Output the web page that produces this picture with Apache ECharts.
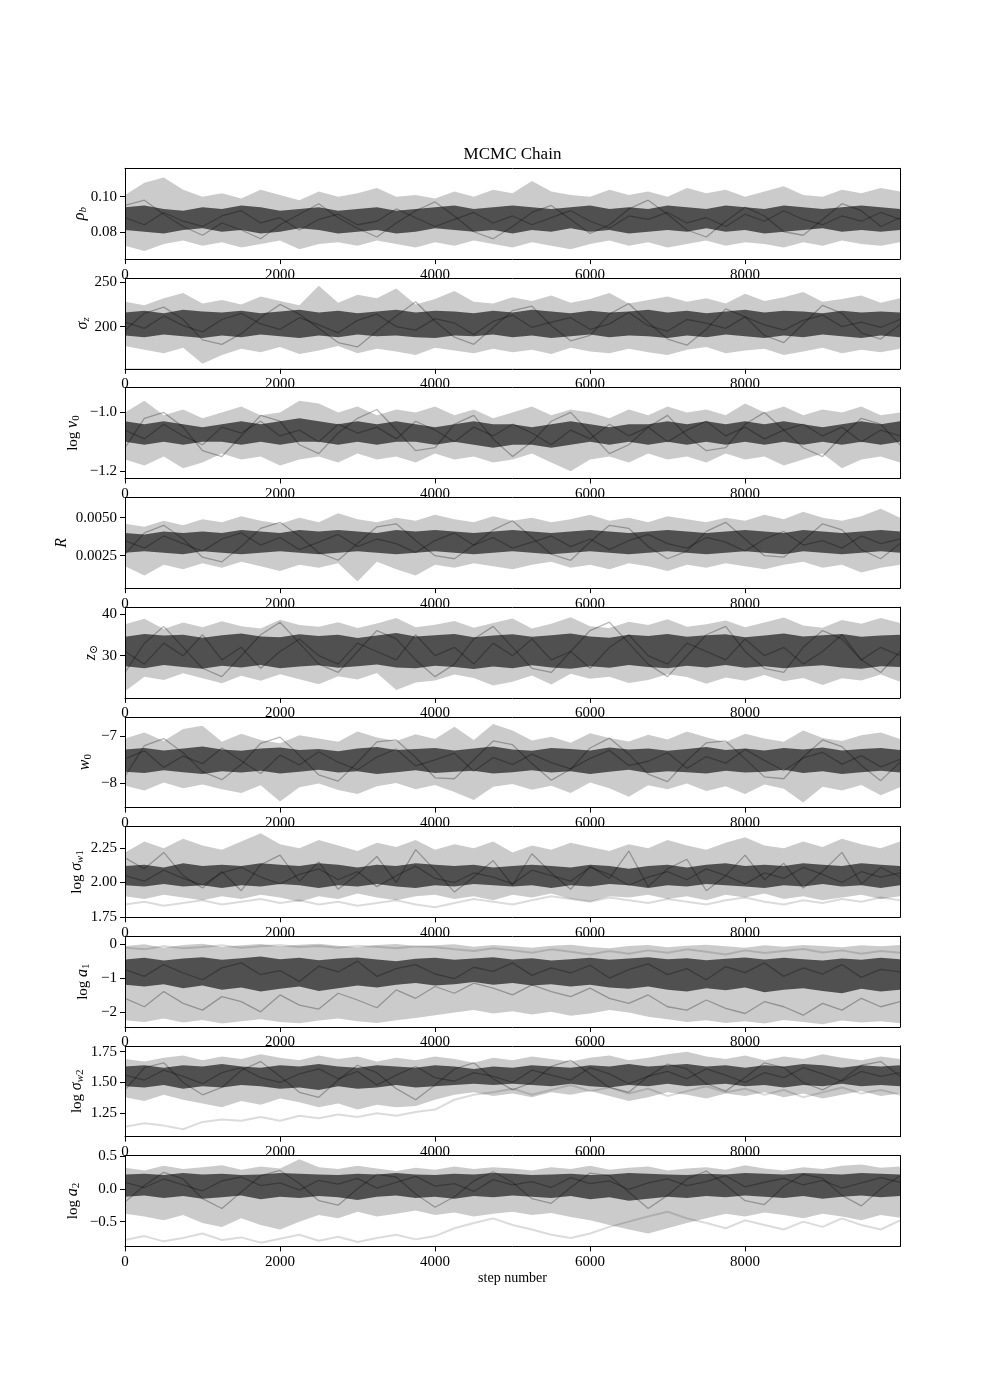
<!DOCTYPE html>
<html><head><meta charset="utf-8">
<script src="https://cdn.jsdelivr.net/npm/echarts@6/dist/echarts.min.js"></script>
<style>html,body{margin:0;padding:0;background:#fff}#c{width:1000px;height:1400px}</style>
</head><body><div id="c"></div>
<script>
// ---------- data ----------
const steps = [0,250,500,750,1000,1250,1500,1750,2000,2250,2500,2750,3000,3250,3500,3750,4000,4250,4500,4750,5000,5250,5500,5750,6000,6250,6500,6750,7000,7250,7500,7750,8000,8250,8500,8750,9000,9250,9500,9750,9999];
const xTicks = [0,2000,4000,6000,8000];

// panel 1: rho_b
const p1Hi = [0.101,0.108,0.111,0.104,0.100,0.102,0.099,0.104,0.101,0.098,0.103,0.100,0.102,0.105,0.100,0.101,0.099,0.103,0.100,0.104,0.102,0.109,0.103,0.101,0.100,0.104,0.101,0.103,0.100,0.105,0.102,0.104,0.100,0.103,0.106,0.101,0.100,0.104,0.102,0.105,0.103];
const p1CoreHi = [0.094,0.095,0.093,0.092,0.094,0.093,0.095,0.094,0.092,0.093,0.094,0.092,0.093,0.094,0.092,0.093,0.094,0.095,0.093,0.094,0.095,0.094,0.093,0.094,0.095,0.093,0.094,0.093,0.095,0.094,0.093,0.095,0.094,0.093,0.095,0.094,0.093,0.094,0.095,0.094,0.093];
const p1CoreLo = [0.081,0.080,0.079,0.081,0.082,0.080,0.081,0.079,0.080,0.082,0.081,0.079,0.080,0.081,0.079,0.080,0.082,0.081,0.080,0.081,0.079,0.081,0.080,0.082,0.080,0.081,0.079,0.080,0.081,0.080,0.082,0.080,0.081,0.079,0.080,0.081,0.082,0.080,0.081,0.080,0.081];
const p1Lo = [0.072,0.069,0.073,0.075,0.072,0.074,0.071,0.073,0.075,0.070,0.073,0.074,0.072,0.075,0.073,0.071,0.074,0.072,0.075,0.073,0.071,0.074,0.072,0.070,0.073,0.075,0.072,0.074,0.071,0.073,0.075,0.072,0.074,0.073,0.071,0.074,0.072,0.075,0.073,0.072,0.074];
const p1W1 = [0.088,0.084,0.091,0.086,0.083,0.089,0.092,0.085,0.088,0.081,0.087,0.090,0.084,0.086,0.093,0.088,0.083,0.087,0.091,0.085,0.089,0.084,0.088,0.092,0.086,0.082,0.089,0.087,0.091,0.085,0.088,0.083,0.090,0.086,0.092,0.087,0.084,0.089,0.086,0.091,0.087];
const p1W2 = [0.095,0.098,0.090,0.083,0.078,0.085,0.081,0.076,0.084,0.090,0.096,0.088,0.082,0.077,0.085,0.092,0.097,0.089,0.080,0.076,0.083,0.091,0.095,0.087,0.079,0.084,0.093,0.098,0.090,0.081,0.077,0.086,0.094,0.089,0.080,0.078,0.087,0.096,0.092,0.083,0.088];

// panel 2: sigma_z
const p2Hi = [228,224,232,238,226,230,225,234,229,224,246,227,236,232,243,225,231,240,228,226,233,229,235,227,231,238,226,230,234,228,232,226,237,229,233,239,228,231,235,227,232];
const p2CoreHi = [216,218,215,219,217,216,218,215,217,219,216,218,215,217,219,216,218,217,215,218,216,219,217,215,218,216,217,219,216,218,215,217,219,216,218,217,215,218,216,217,216];
const p2CoreLo = [190,188,191,189,187,190,188,191,189,187,190,188,191,189,190,188,187,190,189,191,188,190,187,189,191,188,190,189,187,190,188,191,189,187,190,188,191,189,187,190,188];
const p2Lo = [178,174,170,176,158,168,175,171,177,169,173,178,170,175,172,168,176,173,170,175,171,174,169,176,172,170,175,171,168,174,177,170,173,175,168,172,176,170,174,171,175];
const p2W1 = [205,198,212,201,194,208,215,203,197,210,202,193,207,214,200,196,209,204,191,206,213,199,205,210,197,203,216,201,195,208,204,198,211,202,196,207,213,200,205,199,208];
const p2W2 = [196,215,222,208,185,180,192,210,225,214,198,182,177,195,212,228,206,188,180,199,218,223,201,184,190,214,226,205,186,179,197,220,211,190,182,203,224,215,193,186,202];

// panel 3: log nu_0
const p3Hi = [-1.00,-0.96,-1.01,-0.99,-1.02,-1.00,-0.98,-1.01,-1.00,-0.96,-0.97,-1.00,-0.98,-1.01,-0.99,-1.00,-0.98,-1.01,-0.99,-1.02,-1.00,-0.98,-1.01,-0.99,-1.00,-1.02,-0.99,-1.01,-0.98,-1.00,-0.99,-1.01,-0.97,-1.00,-0.98,-1.01,-0.99,-1.00,-0.98,-1.01,-1.00];
const p3CoreHi = [-1.03,-1.04,-1.03,-1.04,-1.05,-1.04,-1.03,-1.04,-1.03,-1.02,-1.03,-1.04,-1.03,-1.04,-1.03,-1.04,-1.05,-1.04,-1.03,-1.04,-1.04,-1.05,-1.04,-1.03,-1.04,-1.05,-1.04,-1.04,-1.03,-1.04,-1.03,-1.04,-1.03,-1.04,-1.03,-1.04,-1.05,-1.04,-1.03,-1.04,-1.03];
const p3CoreLo = [-1.10,-1.11,-1.10,-1.11,-1.10,-1.10,-1.11,-1.10,-1.11,-1.10,-1.10,-1.11,-1.10,-1.11,-1.10,-1.10,-1.11,-1.10,-1.11,-1.12,-1.11,-1.11,-1.12,-1.11,-1.10,-1.11,-1.10,-1.11,-1.10,-1.11,-1.10,-1.11,-1.10,-1.11,-1.10,-1.11,-1.10,-1.11,-1.10,-1.11,-1.10];
const p3Lo = [-1.16,-1.18,-1.15,-1.19,-1.17,-1.14,-1.16,-1.15,-1.18,-1.16,-1.15,-1.17,-1.14,-1.16,-1.15,-1.17,-1.14,-1.16,-1.15,-1.17,-1.16,-1.14,-1.17,-1.20,-1.16,-1.15,-1.17,-1.14,-1.16,-1.15,-1.17,-1.14,-1.16,-1.15,-1.18,-1.16,-1.14,-1.19,-1.16,-1.15,-1.17];
const p3W1 = [-1.06,-1.09,-1.04,-1.08,-1.11,-1.05,-1.07,-1.03,-1.08,-1.06,-1.10,-1.04,-1.07,-1.05,-1.09,-1.03,-1.06,-1.10,-1.05,-1.08,-1.04,-1.07,-1.11,-1.06,-1.09,-1.04,-1.08,-1.05,-1.10,-1.06,-1.03,-1.08,-1.05,-1.09,-1.06,-1.04,-1.08,-1.05,-1.10,-1.06,-1.08];
const p3W2 = [-1.12,-1.02,-1.00,-1.05,-1.13,-1.15,-1.08,-1.01,-1.03,-1.11,-1.14,-1.07,-1.02,-0.99,-1.06,-1.13,-1.12,-1.04,-1.01,-1.09,-1.15,-1.10,-1.03,-1.00,-1.07,-1.14,-1.11,-1.05,-1.01,-1.08,-1.13,-1.12,-1.04,-1.00,-1.06,-1.12,-1.15,-1.08,-1.02,-1.04,-1.11];

// panel 4: R
const p4Hi = [0.0046,0.0044,0.0048,0.0045,0.0049,0.0047,0.0051,0.0048,0.0046,0.0050,0.0047,0.0053,0.0049,0.0047,0.0050,0.0048,0.0052,0.0049,0.0047,0.0051,0.0048,0.0050,0.0047,0.0049,0.0052,0.0048,0.0050,0.0047,0.0051,0.0049,0.0047,0.0050,0.0048,0.0052,0.0049,0.0054,0.0050,0.0048,0.0051,0.0056,0.0050];
const p4CoreHi = [0.0040,0.0039,0.0041,0.0040,0.0041,0.0040,0.0042,0.0041,0.0040,0.0042,0.0041,0.0042,0.0041,0.0040,0.0042,0.0041,0.0042,0.0041,0.0040,0.0041,0.0042,0.0041,0.0040,0.0041,0.0042,0.0041,0.0040,0.0041,0.0042,0.0041,0.0040,0.0041,0.0042,0.0041,0.0040,0.0042,0.0041,0.0040,0.0041,0.0042,0.0041];
const p4CoreLo = [0.0027,0.0028,0.0027,0.0026,0.0028,0.0027,0.0026,0.0027,0.0028,0.0027,0.0026,0.0027,0.0028,0.0027,0.0026,0.0027,0.0028,0.0027,0.0026,0.0027,0.0028,0.0027,0.0026,0.0027,0.0028,0.0027,0.0026,0.0027,0.0028,0.0027,0.0026,0.0027,0.0028,0.0027,0.0026,0.0028,0.0027,0.0026,0.0027,0.0028,0.0027];
const p4Lo = [0.0018,0.0012,0.0019,0.0016,0.0020,0.0017,0.0021,0.0018,0.0015,0.0019,0.0017,0.0020,0.0008,0.0021,0.0016,0.0012,0.0019,0.0017,0.0020,0.0018,0.0016,0.0019,0.0021,0.0017,0.0019,0.0016,0.0020,0.0018,0.0015,0.0019,0.0017,0.0020,0.0018,0.0016,0.0019,0.0021,0.0017,0.0019,0.0014,0.0017,0.0019];
const p4W1 = [0.0035,0.0030,0.0038,0.0033,0.0028,0.0036,0.0040,0.0032,0.0037,0.0029,0.0034,0.0039,0.0031,0.0036,0.0033,0.0027,0.0035,0.0040,0.0032,0.0037,0.0030,0.0034,0.0038,0.0031,0.0036,0.0029,0.0035,0.0039,0.0033,0.0030,0.0037,0.0034,0.0028,0.0036,0.0041,0.0032,0.0035,0.0030,0.0038,0.0033,0.0036];
const p4W2 = [0.0026,0.0040,0.0045,0.0036,0.0024,0.0021,0.0031,0.0043,0.0047,0.0038,0.0027,0.0022,0.0033,0.0044,0.0046,0.0035,0.0025,0.0023,0.0032,0.0042,0.0048,0.0037,0.0026,0.0022,0.0034,0.0045,0.0043,0.0031,0.0023,0.0028,0.0041,0.0047,0.0036,0.0025,0.0024,0.0035,0.0046,0.0042,0.0029,0.0023,0.0033];

// panel 5: z_sun
const p5Hi = [37.5,38.8,36.4,37.9,36.8,38.2,37.0,36.5,38.6,37.3,36.9,38.0,36.6,37.7,39.0,36.8,37.4,38.3,36.7,37.8,38.9,36.5,37.6,39.2,37.0,36.6,38.1,37.3,38.7,36.9,37.5,38.4,36.8,37.9,39.1,37.2,36.7,38.5,37.6,39.0,37.8];
const p5CoreHi = [34.5,35.2,34.8,35.0,34.3,34.9,35.3,34.6,34.4,35.1,34.7,35.0,34.2,34.8,35.4,34.6,34.9,35.2,34.4,34.8,35.1,34.5,34.9,35.3,34.6,34.3,35.0,34.7,35.2,34.5,34.9,35.1,34.4,34.8,35.3,34.6,34.9,35.2,34.5,34.8,35.0];
const p5CoreLo = [27.5,27.0,27.8,27.3,26.9,27.6,27.2,27.8,27.0,27.4,27.7,27.1,27.5,27.9,27.2,27.0,27.6,27.3,26.8,27.4,27.0,27.7,27.2,26.9,27.5,27.1,27.8,27.3,27.0,27.6,27.2,27.8,27.1,27.5,27.0,27.4,27.7,27.2,26.9,27.5,27.3];
const p5Lo = [21.5,25.0,24.2,25.8,24.6,23.4,25.2,24.0,25.6,24.4,23.2,25.1,24.3,25.9,21.8,23.6,24.1,25.5,24.7,22.9,23.8,25.3,23.1,25.7,24.5,25.0,23.5,24.2,25.6,24.9,23.3,24.8,24.0,25.4,23.9,24.7,23.0,24.6,24.1,25.5,23.8];
const p5W1 = [31,28,33,30,35,29,32,27,31,34,30,28,33,31,29,35,30,32,28,33,30,34,29,31,27,32,35,30,28,33,31,29,34,30,32,28,31,35,29,32,30];
const p5W2 = [26,33,37,32,27,25,30,35,38,33,28,26,31,36,34,29,25,28,34,37,32,27,26,31,36,38,33,28,25,30,35,37,31,27,26,32,36,34,29,26,31];

// panel 6: w_0
const p6Hi = [-7.05,-6.92,-7.10,-6.85,-6.78,-7.12,-6.95,-7.08,-7.15,-6.98,-7.05,-7.12,-6.90,-7.03,-7.10,-6.96,-7.06,-6.80,-7.08,-6.74,-6.88,-7.09,-7.01,-7.14,-6.94,-7.04,-7.11,-6.97,-7.07,-6.90,-7.02,-7.13,-6.95,-7.05,-7.12,-6.88,-7.04,-7.10,-6.98,-6.92,-7.06];
const p6CoreHi = [-7.28,-7.25,-7.30,-7.26,-7.22,-7.28,-7.31,-7.26,-7.24,-7.29,-7.27,-7.32,-7.26,-7.23,-7.29,-7.27,-7.25,-7.30,-7.26,-7.22,-7.28,-7.31,-7.25,-7.27,-7.30,-7.24,-7.28,-7.26,-7.31,-7.27,-7.23,-7.29,-7.26,-7.30,-7.25,-7.28,-7.24,-7.30,-7.27,-7.25,-7.29];
const p6CoreLo = [-7.75,-7.78,-7.72,-7.76,-7.80,-7.74,-7.77,-7.73,-7.79,-7.75,-7.71,-7.77,-7.74,-7.80,-7.76,-7.72,-7.78,-7.75,-7.73,-7.79,-7.76,-7.72,-7.77,-7.74,-7.80,-7.75,-7.71,-7.78,-7.74,-7.76,-7.79,-7.73,-7.77,-7.75,-7.71,-7.78,-7.74,-7.80,-7.76,-7.73,-7.77];
const p6Lo = [-8.05,-8.15,-7.98,-8.10,-8.02,-8.12,-8.20,-8.04,-8.38,-8.08,-8.00,-8.14,-8.22,-8.06,-7.99,-8.12,-8.03,-8.18,-8.35,-8.07,-8.01,-8.13,-8.05,-8.20,-7.98,-8.10,-8.28,-8.04,-8.12,-8.00,-8.16,-8.06,-8.22,-8.02,-8.11,-8.40,-8.07,-8.15,-8.03,-8.25,-8.08];
const p6W1 = [-7.48,-7.31,-7.66,-7.42,-7.58,-7.25,-7.52,-7.79,-7.40,-7.61,-7.33,-7.55,-7.71,-7.44,-7.27,-7.63,-7.50,-7.36,-7.74,-7.45,-7.60,-7.38,-7.56,-7.69,-7.47,-7.30,-7.62,-7.53,-7.35,-7.68,-7.43,-7.57,-7.28,-7.51,-7.73,-7.46,-7.34,-7.59,-7.41,-7.65,-7.49];
const p6W2 = [-7.85,-7.20,-7.05,-7.35,-7.75,-7.92,-7.60,-7.15,-7.02,-7.40,-7.82,-7.95,-7.55,-7.12,-7.08,-7.45,-7.88,-7.90,-7.50,-7.10,-7.18,-7.58,-7.93,-7.70,-7.25,-7.04,-7.38,-7.80,-7.96,-7.52,-7.14,-7.10,-7.48,-7.86,-7.90,-7.44,-7.08,-7.22,-7.62,-7.94,-7.55];

// panel 7: log sigma_w1
const p7Hi = [2.22,2.30,2.25,2.32,2.27,2.24,2.30,2.36,2.28,2.25,2.31,2.27,2.23,2.29,2.26,2.31,2.24,2.28,2.25,2.30,2.22,2.27,2.24,2.29,2.26,2.23,2.28,2.25,2.31,2.27,2.24,2.29,2.33,2.27,2.25,2.30,2.26,2.32,2.28,2.25,2.30];
const p7CoreHi = [2.12,2.13,2.11,2.14,2.12,2.13,2.12,2.14,2.13,2.12,2.14,2.13,2.11,2.13,2.12,2.14,2.13,2.12,2.13,2.11,2.12,2.13,2.12,2.11,2.13,2.12,2.10,2.12,2.13,2.11,2.13,2.14,2.12,2.13,2.12,2.14,2.13,2.12,2.14,2.13,2.12];
const p7CoreLo = [1.98,1.97,1.99,1.97,1.98,1.96,1.98,1.97,1.99,1.98,1.96,1.98,1.97,1.99,1.97,1.96,1.98,1.97,1.99,1.98,1.97,1.98,1.96,1.98,1.97,1.99,1.98,1.96,1.98,1.97,1.99,1.98,1.97,1.96,1.98,1.97,1.99,1.97,1.98,1.96,1.98];
const p7Lo = [1.90,1.88,1.91,1.89,1.87,1.90,1.88,1.91,1.89,1.86,1.90,1.88,1.92,1.89,1.87,1.90,1.91,1.88,1.90,1.87,1.91,1.89,1.92,1.88,1.86,1.90,1.89,1.91,1.88,1.90,1.87,1.91,1.89,1.92,1.88,1.90,1.87,1.89,1.91,1.88,1.90];
const p7W1 = [2.05,2.01,2.09,2.03,1.98,2.07,2.11,2.04,1.99,2.06,2.10,2.02,2.08,1.97,2.05,2.12,2.03,2.00,2.07,2.04,1.99,2.09,2.05,2.01,2.11,2.06,1.98,2.04,2.08,2.02,2.10,2.05,1.99,2.07,2.03,2.11,2.06,2.00,2.08,2.04,2.07];
const p7W2 = [2.18,2.10,2.22,2.05,1.96,2.08,1.94,2.13,2.20,2.01,2.15,1.95,2.06,2.19,2.00,2.24,2.09,1.93,2.04,2.16,1.98,2.21,2.07,1.95,2.12,2.03,2.23,1.97,2.10,2.17,1.94,2.05,2.20,2.02,2.14,1.96,2.08,2.22,1.99,2.11,2.04];
const p7Out = [1.84,1.86,1.83,1.85,1.87,1.84,1.86,1.88,1.85,1.87,1.84,1.86,1.83,1.85,1.87,1.84,1.82,1.85,1.88,1.86,1.84,1.87,1.90,1.88,1.86,1.89,1.87,1.85,1.88,1.86,1.84,1.87,1.89,1.86,1.84,1.87,1.85,1.88,1.86,1.89,1.87];

// panel 8: log a_1
const p8Hi = [-0.05,0.00,-0.10,-0.02,0.02,-0.08,-0.03,0.01,-0.06,-0.01,0.02,-0.04,-0.09,-0.02,0.01,-0.05,-0.03,0.00,-0.07,-0.02,-0.06,-0.10,-0.04,-0.01,-0.08,-0.12,-0.05,-0.02,-0.09,-0.04,-0.01,-0.06,-0.10,-0.03,-0.07,-0.02,-0.05,-0.09,-0.03,-0.06,-0.02];
const p8CoreHi = [-0.45,-0.40,-0.48,-0.42,-0.38,-0.46,-0.41,-0.36,-0.44,-0.40,-0.47,-0.42,-0.39,-0.45,-0.50,-0.43,-0.40,-0.46,-0.42,-0.38,-0.45,-0.41,-0.48,-0.44,-0.40,-0.46,-0.42,-0.38,-0.44,-0.41,-0.47,-0.43,-0.39,-0.45,-0.40,-0.44,-0.48,-0.42,-0.46,-0.40,-0.44];
const p8CoreLo = [-1.20,-1.25,-1.18,-1.30,-1.22,-1.35,-1.28,-1.40,-1.32,-1.25,-1.38,-1.30,-1.22,-1.28,-1.20,-1.15,-1.22,-1.18,-1.12,-1.20,-1.15,-1.22,-1.18,-1.25,-1.20,-1.28,-1.32,-1.25,-1.35,-1.40,-1.30,-1.36,-1.28,-1.42,-1.35,-1.30,-1.38,-1.45,-1.32,-1.40,-1.35];
const p8Lo = [-2.25,-2.30,-2.20,-2.32,-2.24,-2.35,-2.28,-2.22,-2.30,-2.34,-2.26,-2.20,-2.28,-2.33,-2.25,-2.18,-2.10,-2.02,-1.95,-2.05,-1.98,-2.08,-2.00,-2.12,-2.05,-1.95,-2.02,-2.15,-2.22,-2.30,-2.25,-2.33,-2.28,-2.35,-2.24,-2.30,-2.37,-2.26,-2.32,-2.28,-2.34];
const p8W1 = [-0.75,-0.95,-0.60,-0.85,-1.05,-0.70,-0.55,-0.90,-0.78,-1.10,-0.65,-0.82,-0.50,-0.95,-0.72,-0.60,-0.88,-1.02,-0.68,-0.80,-0.55,-0.92,-0.70,-0.85,-0.62,-1.00,-0.75,-0.58,-0.90,-0.72,-1.05,-0.66,-0.84,-0.55,-0.95,-0.70,-0.88,-0.60,-0.98,-0.74,-0.82];
const p8W2 = [-1.60,-1.85,-1.40,-1.75,-1.95,-1.55,-1.70,-2.00,-1.50,-1.80,-1.92,-1.45,-1.65,-1.88,-1.35,-1.60,-1.25,-1.45,-1.15,-1.30,-1.50,-1.20,-1.40,-1.55,-1.30,-1.60,-1.75,-1.50,-1.85,-1.95,-1.65,-1.90,-2.05,-1.70,-1.85,-2.10,-1.75,-1.95,-1.60,-1.85,-1.70];
const p8Out = [-0.10,-0.15,-0.05,-0.12,-0.08,-0.03,-0.10,-0.06,-0.02,-0.08,-0.05,-0.10,-0.04,-0.07,-0.12,-0.06,-0.09,-0.15,-0.20,-0.12,-0.18,-0.25,-0.15,-0.22,-0.30,-0.20,-0.28,-0.18,-0.25,-0.15,-0.22,-0.30,-0.18,-0.26,-0.20,-0.14,-0.24,-0.18,-0.28,-0.20,-0.25];

// panel 9: log sigma_w2
const p9Hi = [1.69,1.67,1.70,1.72,1.68,1.71,1.69,1.73,1.70,1.68,1.72,1.69,1.71,1.67,1.70,1.68,1.71,1.69,1.66,1.70,1.68,1.71,1.69,1.67,1.70,1.72,1.68,1.70,1.73,1.75,1.71,1.69,1.72,1.68,1.71,1.69,1.73,1.70,1.68,1.71,1.69];
const p9CoreHi = [1.63,1.64,1.62,1.64,1.63,1.65,1.63,1.62,1.64,1.63,1.65,1.63,1.62,1.64,1.63,1.62,1.64,1.63,1.61,1.63,1.62,1.64,1.63,1.62,1.64,1.63,1.65,1.63,1.64,1.65,1.63,1.64,1.62,1.64,1.63,1.65,1.64,1.62,1.64,1.63,1.64];
const p9CoreLo = [1.47,1.46,1.48,1.45,1.47,1.46,1.48,1.47,1.45,1.46,1.44,1.47,1.45,1.46,1.48,1.46,1.47,1.48,1.49,1.48,1.49,1.48,1.47,1.49,1.47,1.46,1.48,1.47,1.49,1.47,1.48,1.49,1.47,1.48,1.46,1.48,1.47,1.49,1.47,1.48,1.47];
const p9Lo = [1.38,1.35,1.40,1.36,1.33,1.30,1.35,1.32,1.37,1.34,1.30,1.33,1.28,1.32,1.30,1.31,1.36,1.40,1.42,1.39,1.41,1.38,1.42,1.40,1.43,1.39,1.35,1.38,1.42,1.40,1.37,1.41,1.39,1.42,1.38,1.41,1.37,1.40,1.43,1.39,1.41];
const p9W1 = [1.56,1.52,1.60,1.55,1.49,1.58,1.62,1.54,1.50,1.57,1.61,1.53,1.59,1.48,1.56,1.63,1.54,1.51,1.58,1.55,1.50,1.60,1.56,1.52,1.62,1.57,1.49,1.55,1.59,1.53,1.61,1.56,1.50,1.58,1.54,1.62,1.57,1.51,1.59,1.55,1.58];
const p9W2 = [1.44,1.62,1.66,1.50,1.40,1.46,1.60,1.67,1.55,1.42,1.38,1.52,1.64,1.58,1.45,1.36,1.48,1.61,1.66,1.53,1.44,1.50,1.63,1.68,1.57,1.46,1.42,1.55,1.65,1.61,1.49,1.43,1.54,1.66,1.62,1.50,1.44,1.52,1.64,1.67,1.55];
const p9Out = [1.14,1.17,1.15,1.12,1.18,1.20,1.19,1.22,1.19,1.23,1.21,1.24,1.22,1.25,1.23,1.26,1.28,1.36,1.40,1.42,1.45,1.40,1.44,1.48,1.43,1.46,1.41,1.45,1.39,1.43,1.47,1.42,1.45,1.40,1.44,1.38,1.42,1.46,1.41,1.44,1.40];

// panel 10: log a_2
const p10Hi = [0.32,0.28,0.35,0.30,0.33,0.36,0.29,0.34,0.31,0.45,0.33,0.30,0.35,0.31,0.27,0.32,0.29,0.34,0.30,0.33,0.31,0.28,0.33,0.30,0.35,0.29,0.32,0.34,0.28,0.31,0.33,0.29,0.36,0.31,0.28,0.33,0.30,0.35,0.37,0.32,0.34];
const p10CoreHi = [0.22,0.23,0.21,0.24,0.22,0.23,0.21,0.22,0.24,0.23,0.22,0.21,0.23,0.22,0.24,0.22,0.21,0.23,0.22,0.24,0.23,0.21,0.22,0.23,0.21,0.22,0.24,0.23,0.22,0.21,0.23,0.22,0.24,0.23,0.22,0.24,0.23,0.22,0.24,0.23,0.22];
const p10CoreLo = [-0.12,-0.10,-0.14,-0.11,-0.15,-0.13,-0.10,-0.16,-0.12,-0.14,-0.11,-0.13,-0.17,-0.12,-0.10,-0.14,-0.12,-0.15,-0.11,-0.13,-0.10,-0.12,-0.14,-0.11,-0.16,-0.13,-0.18,-0.15,-0.12,-0.14,-0.11,-0.13,-0.10,-0.12,-0.14,-0.11,-0.15,-0.12,-0.10,-0.13,-0.11];
const p10Lo = [-0.38,-0.42,-0.48,-0.40,-0.52,-0.58,-0.45,-0.55,-0.62,-0.50,-0.40,-0.45,-0.35,-0.42,-0.38,-0.33,-0.40,-0.36,-0.42,-0.38,-0.35,-0.40,-0.37,-0.43,-0.48,-0.55,-0.62,-0.68,-0.60,-0.52,-0.45,-0.38,-0.42,-0.36,-0.40,-0.45,-0.38,-0.42,-0.48,-0.40,-0.44];
const p10W1 = [0.10,0.02,0.15,0.06,-0.03,0.12,0.18,0.05,0.09,-0.02,0.13,0.07,0.16,0.01,0.10,0.19,0.04,0.08,-0.04,0.14,0.06,0.11,0.02,0.17,0.08,0.12,-0.01,0.09,0.15,0.05,0.11,0.20,0.03,0.10,0.16,0.06,0.13,0.01,0.09,0.17,0.10];
const p10W2 = [-0.20,0.05,0.25,0.15,-0.15,-0.30,-0.05,0.20,0.28,0.08,-0.18,-0.25,0.00,0.22,0.18,-0.08,-0.28,-0.12,0.12,0.26,0.10,-0.15,-0.22,0.02,0.24,0.20,-0.05,-0.30,-0.10,0.15,0.27,0.06,-0.18,-0.24,0.04,0.22,0.16,-0.10,-0.26,0.00,0.20];
const p10Out = [-0.78,-0.72,-0.80,-0.75,-0.68,-0.78,-0.74,-0.82,-0.76,-0.70,-0.79,-0.73,-0.81,-0.75,-0.70,-0.77,-0.72,-0.60,-0.52,-0.45,-0.55,-0.62,-0.70,-0.75,-0.68,-0.58,-0.50,-0.42,-0.35,-0.45,-0.52,-0.60,-0.48,-0.55,-0.62,-0.50,-0.58,-0.45,-0.55,-0.62,-0.48];

// axis tick values and labels
const yLabels = ['{i|ρ}{s|b}','{i|σ}{s|z}','{r|log }{i|ν}{su|0}','{i|R}','{i|z}{su|⊙}','{i|w}{su|0}','{r|log }{i|σ}{s|w}{su|1}','{r|log }{i|a}{su|1}','{r|log }{i|σ}{s|w}{su|2}','{r|log }{i|a}{su|2}'];
const yTicks = [[0.08,0.10],[200,250],[-1.2,-1.0],[0.0025,0.0050],[30,40],[-8,-7],[1.75,2.00,2.25],[-2,-1,0],[1.25,1.50,1.75],[-0.5,0.0,0.5]];
const yDecimals = [2,0,1,4,0,0,2,0,2,1];
const yMin = [0.0644,152.4,-1.2246,0.00036,19.93,-8.51,1.746,-2.45,1.06,-0.877];
const yMax = [0.1162,254.8,-0.916,0.00634,41.6,-6.59,2.409,0.24,1.797,0.506];
const nameGaps = [36,33,43,54,25,31,39,33,39,43];

// ---------- chart ----------
const panels = [
  {hi:p1Hi,ch:p1CoreHi,cl:p1CoreLo,lo:p1Lo,w:[p1W1,p1W2],out:null},
  {hi:p2Hi,ch:p2CoreHi,cl:p2CoreLo,lo:p2Lo,w:[p2W1,p2W2],out:null},
  {hi:p3Hi,ch:p3CoreHi,cl:p3CoreLo,lo:p3Lo,w:[p3W1,p3W2],out:null},
  {hi:p4Hi,ch:p4CoreHi,cl:p4CoreLo,lo:p4Lo,w:[p4W1,p4W2],out:null},
  {hi:p5Hi,ch:p5CoreHi,cl:p5CoreLo,lo:p5Lo,w:[p5W1,p5W2],out:null},
  {hi:p6Hi,ch:p6CoreHi,cl:p6CoreLo,lo:p6Lo,w:[p6W1,p6W2],out:null},
  {hi:p7Hi,ch:p7CoreHi,cl:p7CoreLo,lo:p7Lo,w:[p7W1,p7W2],out:p7Out},
  {hi:p8Hi,ch:p8CoreHi,cl:p8CoreLo,lo:p8Lo,w:[p8W1,p8W2],out:p8Out},
  {hi:p9Hi,ch:p9CoreHi,cl:p9CoreLo,lo:p9Lo,w:[p9W1,p9W2],out:p9Out},
  {hi:p10Hi,ch:p10CoreHi,cl:p10CoreLo,lo:p10Lo,w:[p10W1,p10W2],out:p10Out}
];

const SERIF = "'Liberation Serif','DejaVu Serif',serif";
const HALO = '#cbcbcb', CORE = '#505050';
const pts = arr => arr.map((v, i) => [steps[i], v]);
const fmtY = (d) => (v) => { let s = Number(v).toFixed(d); if (Math.abs(Number(v)) < 1e-12) s = (0).toFixed(d); return s.replace('-', '\u2212'); };
const fmtX = (v) => String(Math.round(v));

const grids = [], xAxes = [], yAxes = [], series = [];
panels.forEach((p, i) => {
  grids.push({left: 125, right: 100, top: 168.3 + 109.7 * i, height: 90.8, containLabel: false});
  const lineStyle = {color: '#000', width: 1};
  xAxes.push({
    type: 'value', gridIndex: i, position: 'bottom', min: 0, max: 9999, z: 10,
    axisLine: {show: true, onZero: false, lineStyle},
    axisTick: {show: true, length: 5, inside: false, customValues: xTicks, lineStyle},
    axisLabel: {customValues: xTicks, margin: 8, fontSize: 15, fontFamily: SERIF, color: '#000', formatter: fmtX},
    splitLine: {show: false},
    name: i === panels.length - 1 ? 'step number' : '', nameLocation: 'middle', nameGap: 25, nameMoveOverlap: false,
    nameTextStyle: {fontFamily: SERIF, fontSize: 14, color: '#000'}
  });
  xAxes.push({
    type: 'value', gridIndex: i, position: 'top', min: 0, max: 9999, z: 10,
    axisLine: {show: true, onZero: false, lineStyle}, axisTick: {show: false}, axisLabel: {show: false}, splitLine: {show: false}
  });
  yAxes.push({
    type: 'value', gridIndex: i, position: 'left', min: yMin[i], max: yMax[i], z: 10,
    axisLine: {show: true, onZero: false, lineStyle},
    axisTick: {show: true, length: 5, inside: false, customValues: yTicks[i], lineStyle},
    axisLabel: {customValues: yTicks[i], margin: 8, fontSize: 15, fontFamily: SERIF, color: '#000', formatter: fmtY(yDecimals[i])},
    splitLine: {show: false},
    name: yLabels[i], nameLocation: 'middle', nameRotate: 90, nameGap: nameGaps[i], nameMoveOverlap: false,
    nameTextStyle: {
      color: '#000', fontFamily: SERIF, fontSize: 15,
      rich: {
        i: {fontFamily: SERIF, fontStyle: 'italic', fontSize: 16, lineHeight: 18, color: '#000'},
        r: {fontFamily: SERIF, fontSize: 15, lineHeight: 18, color: '#000'},
        s: {fontFamily: SERIF, fontStyle: 'italic', fontSize: 11, lineHeight: 11, verticalAlign: 'bottom', color: '#000'},
        su: {fontFamily: SERIF, fontSize: 11, lineHeight: 11, verticalAlign: 'bottom', color: '#000'}
      }
    }
  });
  yAxes.push({
    type: 'value', gridIndex: i, position: 'right', min: yMin[i], max: yMax[i], z: 10,
    axisLine: {show: true, onZero: false, lineStyle}, axisTick: {show: false}, axisLabel: {show: false}, splitLine: {show: false}
  });
  const xi = 2 * i, yi = 2 * i;
  const area = (arr, color) => ({
    type: 'line', xAxisIndex: xi, yAxisIndex: yi, data: pts(arr), symbol: 'none', silent: true,
    lineStyle: {width: 0, opacity: 0}, areaStyle: {color, opacity: 1, origin: 'start'}, z: 2
  });
  series.push(area(p.hi, HALO), area(p.ch, CORE), area(p.cl, HALO), area(p.lo, '#ffffff'));
  if (p.out) series.push({type: 'line', xAxisIndex: xi, yAxisIndex: yi, data: pts(p.out), symbol: 'none', silent: true,
    lineStyle: {color: 'rgba(0,0,0,0.14)', width: 2}, z: 3});
  p.w.forEach(w => series.push({type: 'line', xAxisIndex: xi, yAxisIndex: yi, data: pts(w), symbol: 'none', silent: true,
    lineStyle: {color: 'rgba(0,0,0,0.28)', width: 1.3}, z: 3}));
});

const chart = echarts.init(document.getElementById('c'), null, {renderer: 'canvas'});
chart.setOption({
  animation: false,
  backgroundColor: '#ffffff',
  title: {text: 'MCMC Chain', left: 512.5, top: 146, textAlign: 'center', padding: 0,
    textStyle: {fontFamily: SERIF, fontSize: 17, fontWeight: 'normal', color: '#000'}},
  grid: grids, xAxis: xAxes, yAxis: yAxes, series
});
</script></body></html>
